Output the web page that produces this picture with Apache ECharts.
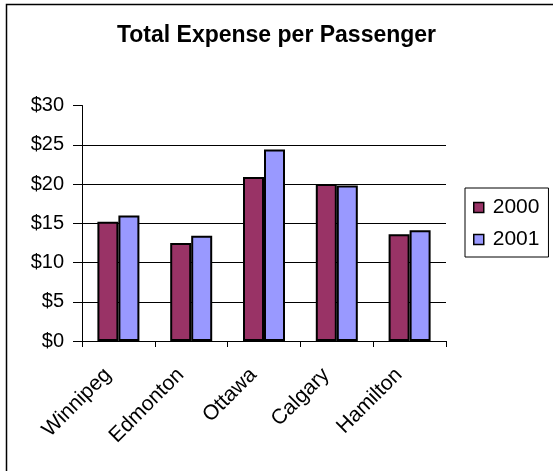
<!DOCTYPE html>
<html>
<head>
<meta charset="utf-8">
<script src="https://cdn.jsdelivr.net/npm/echarts@6/dist/echarts.min.js"></script>
<style>
html,body{margin:0;padding:0;background:#fff;}
#chart{width:553px;height:471px;}
</style>
</head>
<body>
<div id="chart"></div>
<script>
var categories = ['Winnipeg', 'Edmonton', 'Ottawa', 'Calgary', 'Hamilton'];
var values2000 = [15.2, 12.5, 20.9, 20.0, 13.6];
var values2001 = [16.0, 13.4, 24.4, 19.8, 14.1];
var seriesNames = ['2000', '2001'];
var yTicks = [0, 5, 10, 15, 20, 25, 30];

var chart = echarts.init(document.getElementById('chart'), null, {renderer: 'canvas'});
var font = 'Arial, "Liberation Sans", sans-serif';
chart.setOption({
  backgroundColor: '#fff',
  animation: false,
  title: {
    text: 'Total Expense per Passenger',
    left: 'center',
    top: 19,
    textStyle: {fontFamily: font, fontSize: 23, fontWeight: 'bold', color: '#000'}
  },
  graphic: [{
    type: 'rect',
    shape: {x: 6.5, y: 4.5, width: 700, height: 700},
    style: {fill: 'none', stroke: '#000', lineWidth: 1.5},
    silent: true
  }],
  legend: {
    orient: 'vertical',
    left: 465,
    top: 188,
    padding: [9, 9, 7, 8],
    itemGap: 11,
    itemWidth: 10,
    itemHeight: 10,
    icon: 'rect',
    borderColor: '#000',
    borderWidth: 1,
    textStyle: {fontFamily: font, fontSize: 21, color: '#000', padding: [0, 0, 0, 4]},
    itemStyle: {borderColor: '#000', borderWidth: 1.5},
    data: seriesNames
  },
  grid: {left: 82, right: 107, top: 105.5, bottom: 130, containLabel: false},
  xAxis: {
    type: 'category',
    data: categories,
    axisLine: {lineStyle: {color: '#000', width: 1}},
    axisTick: {show: true, length: 6, lineStyle: {color: '#000'}},
    axisLabel: {rotate: 45, margin: 20, padding: [0, 15, 0, 0], fontFamily: font, fontSize: 21, color: '#000', interval: 0}
  },
  yAxis: {
    type: 'value',
    min: yTicks[0],
    max: yTicks[yTicks.length - 1],
    interval: 5,
    axisLine: {show: true, lineStyle: {color: '#000', width: 1}},
    axisTick: {show: true, length: 9, lineStyle: {color: '#000'}},
    axisLabel: {margin: 18, fontFamily: font, fontSize: 20, color: '#000', formatter: function (v) { return '$' + v; }},
    splitLine: {show: true, showMinLine: false, showMaxLine: false, lineStyle: {color: '#000', width: 1}}
  },
  series: [{
    name: seriesNames[0],
    type: 'bar',
    data: values2000,
    barWidth: 21,
    barGap: '0%',
    itemStyle: {color: '#993366', borderColor: '#000', borderWidth: 2}
  }, {
    name: seriesNames[1],
    type: 'bar',
    data: values2001,
    barWidth: 21,
    barGap: '0%',
    itemStyle: {color: '#9999FF', borderColor: '#000', borderWidth: 2}
  }]
});
</script>
</body>
</html>
